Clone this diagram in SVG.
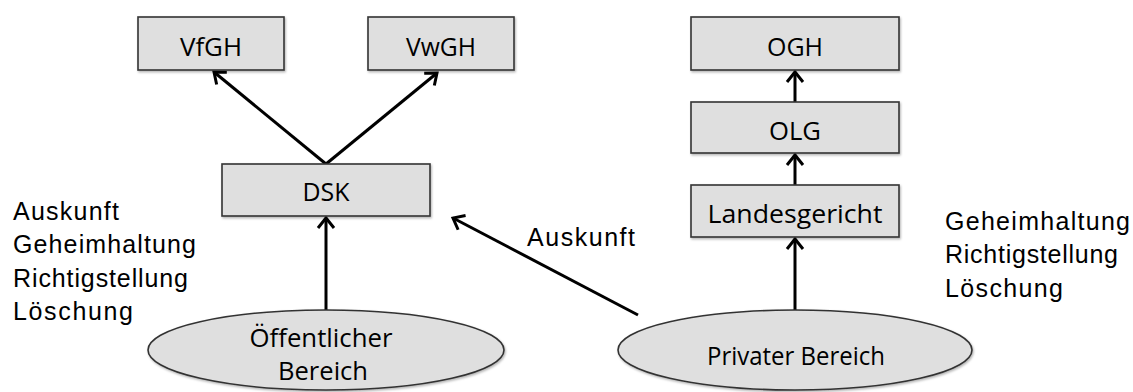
<svg xmlns="http://www.w3.org/2000/svg" width="1133" height="392" viewBox="0 0 1133 392">
  <defs>
    <style>
      .box { fill: #dfdfdf; stroke: #333; stroke-width: 1.6; }
      .ell { fill: #dfdfdf; stroke: #333; stroke-width: 1.6; }
      .lbl { font-family: "Open Sans", "Noto Sans", sans-serif; font-size: 26px; fill: #000; text-anchor: middle; }
      .side { font-family: "Liberation Sans", Arial, sans-serif; font-size: 25px; fill: #000; }
      .conn { stroke: #000; stroke-width: 3; fill: none; marker-end: url(#arrow); }
    </style>
    <marker id="arrow" markerUnits="userSpaceOnUse" viewBox="-13 -11 16 22" markerWidth="16" markerHeight="22" refX="0" refY="0" orient="auto">
      <path d="M-10,-8 L0,0 L-10,8" fill="none" stroke="#000" stroke-width="3" stroke-linejoin="miter"/>
    </marker>
    <filter id="sh" x="-10%" y="-10%" width="130%" height="140%">
      <feDropShadow dx="1" dy="1.5" stdDeviation="1" flood-color="#000" flood-opacity="0.3"/>
    </filter>
  </defs>

  <g id="connectors">
    <line class="conn" x1="326" y1="164" x2="214" y2="72"/>
    <line class="conn" x1="326" y1="164" x2="437" y2="73"/>
    <line class="conn" x1="326" y1="310" x2="326" y2="218"/>
    <line class="conn" x1="638" y1="315" x2="453" y2="218"/>
    <line class="conn" x1="795" y1="311" x2="795" y2="239"/>
    <line class="conn" x1="795" y1="185" x2="795" y2="155"/>
    <line class="conn" x1="795" y1="102" x2="795" y2="72"/>
  </g>

  <g id="vfgh">
    <rect class="box" filter="url(#sh)" x="138" y="17" width="146" height="53"/>
    <text class="lbl" x="211" y="55.5" textLength="62" lengthAdjust="spacingAndGlyphs">VfGH</text>
  </g>
  <g id="vwgh">
    <rect class="box" filter="url(#sh)" x="368" y="17" width="146" height="53"/>
    <text class="lbl" x="441" y="55.5" textLength="70" lengthAdjust="spacingAndGlyphs">VwGH</text>
  </g>
  <g id="dsk">
    <rect class="box" filter="url(#sh)" x="222" y="164" width="208" height="52"/>
    <text class="lbl" x="326" y="201" textLength="47" lengthAdjust="spacingAndGlyphs">DSK</text>
  </g>
  <g id="ogh">
    <rect class="box" filter="url(#sh)" x="691" y="17" width="208" height="53"/>
    <text class="lbl" x="795" y="55.5" textLength="56" lengthAdjust="spacingAndGlyphs">OGH</text>
  </g>
  <g id="olg">
    <rect class="box" filter="url(#sh)" x="691" y="102" width="208" height="51"/>
    <text class="lbl" x="795" y="140" textLength="52" lengthAdjust="spacingAndGlyphs">OLG</text>
  </g>
  <g id="landesgericht">
    <rect class="box" filter="url(#sh)" x="691" y="185" width="208" height="52"/>
    <text class="lbl" x="795" y="223" textLength="175" lengthAdjust="spacingAndGlyphs">Landesgericht</text>
  </g>
  <g id="oeffentlich">
    <ellipse class="ell" filter="url(#sh)" cx="326" cy="350" rx="178" ry="40"/>
    <text class="lbl" x="321" y="346.5" textLength="143" lengthAdjust="spacingAndGlyphs">Öffentlicher</text>
    <text class="lbl" x="323" y="380" textLength="90" lengthAdjust="spacingAndGlyphs">Bereich</text>
  </g>
  <g id="privat">
    <ellipse class="ell" filter="url(#sh)" cx="795" cy="350" rx="177" ry="40"/>
    <text class="lbl" x="796" y="365" textLength="178" lengthAdjust="spacingAndGlyphs">Privater Bereich</text>
  </g>

  <g id="left-text">
    <text class="side" x="13" y="220" textLength="106">Auskunft</text>
    <text class="side" x="13" y="253.3" textLength="183">Geheimhaltung</text>
    <text class="side" x="13" y="286.7" textLength="175">Richtigstellung</text>
    <text class="side" x="13" y="320" textLength="120">Löschung</text>
  </g>
  <g id="middle-text">
    <text class="side" x="527" y="245.7" textLength="108">Auskunft</text>
  </g>
  <g id="right-text">
    <text class="side" x="945" y="230" textLength="185">Geheimhaltung</text>
    <text class="side" x="945" y="263.3" textLength="173">Richtigstellung</text>
    <text class="side" x="945" y="296.7" textLength="118">Löschung</text>
  </g>
</svg>
